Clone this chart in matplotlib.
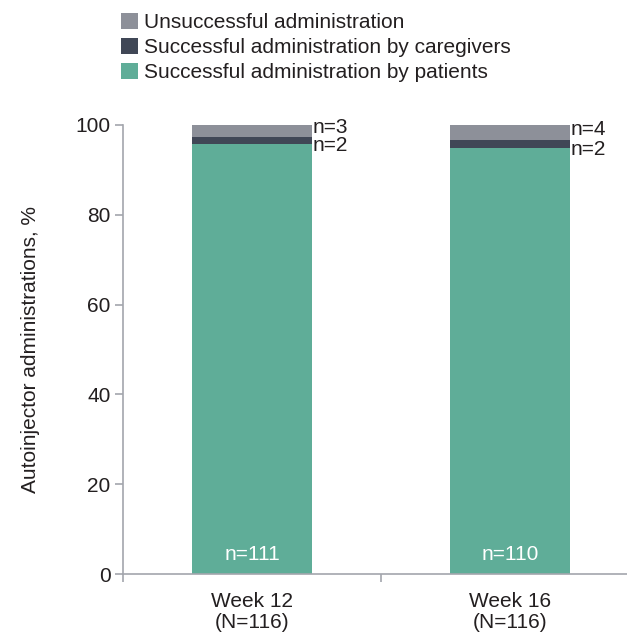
import matplotlib
matplotlib.use("Agg")
import matplotlib.pyplot as plt
from matplotlib.patches import Patch
import numpy as np

plt.rcParams['font.family'] = ['Liberation Sans', 'DejaVu Sans']

categories = ["Week 12\n(N=116)", "Week 16\n(N=116)"]
N = [116, 116]
n_patients = [111, 110]
n_caregivers = [2, 2]
n_unsuccessful = [3, 4]
series_names = ["Unsuccessful administration",
                "Successful administration by caregivers",
                "Successful administration by patients"]
colors = ["#8d9099", "#404756", "#5fad98"]
text_color = "#231f20"
spine_color = "#a3a6ad"

N_arr = np.array(N, float)
p = np.array(n_patients) / N_arr * 100
c = np.array(n_caregivers) / N_arr * 100
u = np.array(n_unsuccessful) / N_arr * 100

fig = plt.figure(figsize=(6.27, 6.38), dpi=100)
ax = fig.add_axes([123/627, 1 - 574/638, (639-123)/627, (574-125)/638])
x = np.arange(len(categories)) + 0.5
w = 0.465
ax.bar(x, p, w, color=colors[2], zorder=2)
ax.bar(x, c, w, bottom=p, color=colors[1], zorder=2)
ax.bar(x, u, w, bottom=p + c, color=colors[0], zorder=2)

fs = 15
for i in range(len(categories)):
    ax.text(x[i], 2.3, f"n={n_patients[i]}", color="white", ha="center",
            va="bottom", fontsize=fs)
    xr = x[i] + w / 2 + 0.003
    ax.text(xr, p[i] + c[i] + u[i] / 2 + 0.7, f"n={n_unsuccessful[i]}",
            color=text_color, ha="left", va="center", fontsize=fs)
    ax.text(xr, p[i] + c[i] / 2 - 1.2, f"n={n_caregivers[i]}",
            color=text_color, ha="left", va="center", fontsize=fs)

ax.set_xlim(0, 2)
ax.set_ylim(0, 100)
ax.set_yticks([0, 20, 40, 60, 80, 100])
ax.set_xticks(x)
ax.set_xticklabels(categories, fontsize=fs, color=text_color, linespacing=1.1)
ax.set_xticks([0, 1, 2], minor=True)
ax.tick_params(axis='x', which='major', length=0, pad=13)
ax.tick_params(axis='x', which='minor', length=6, width=1.2, color=spine_color, direction='out')
ax.tick_params(axis='y', length=6, width=1.2, color=spine_color, labelsize=fs,
               labelcolor=text_color, pad=3)
for s in ['top', 'right']:
    ax.spines[s].set_visible(False)
for s in ['left', 'bottom']:
    ax.spines[s].set_color(spine_color)
    ax.spines[s].set_linewidth(1.2)
ax.set_ylabel("Autoinjector administrations, %", fontsize=fs, color=text_color)
ax.yaxis.set_label_coords(-0.16, 0.5)

handles = [Patch(facecolor=col, edgecolor='none') for col in colors]
leg = fig.legend(handles, series_names, loc='upper left', bbox_to_anchor=(121/627, 1 - 13/638),
                 frameon=False, fontsize=fs, handlelength=0.8, handleheight=0.8,
                 handletextpad=0.3, labelspacing=0.27, borderaxespad=0, borderpad=0)
for t in leg.get_texts():
    t.set_color(text_color)

fig.savefig("out.png", dpi=100)
